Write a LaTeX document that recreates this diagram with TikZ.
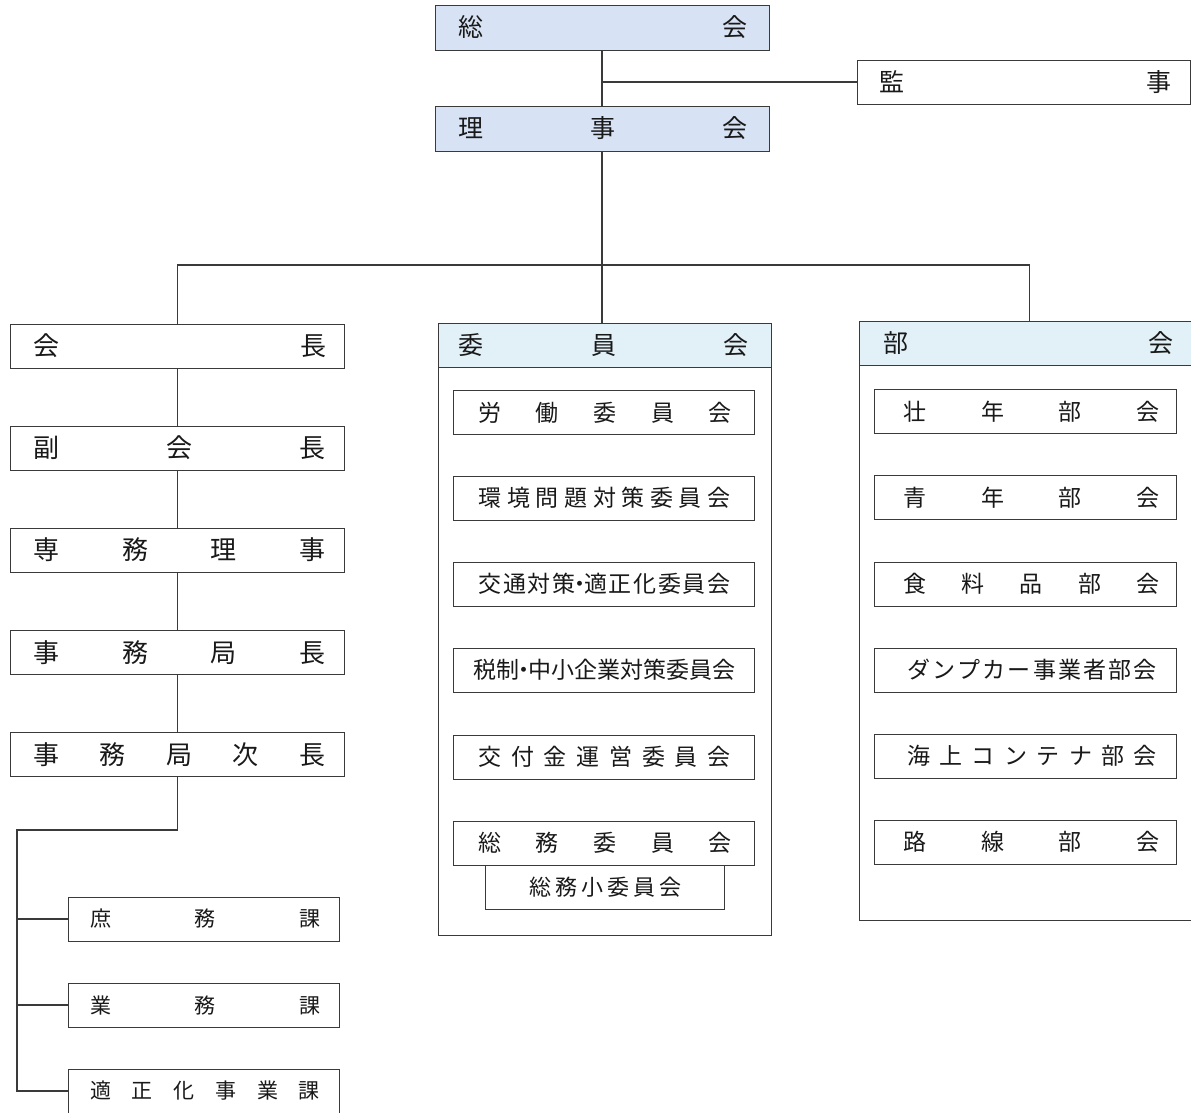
\documentclass[tikz,border=0pt]{standalone}
\usepackage{fontspec}
\newfontfamily\jp{Noto Sans CJK JP}
\definecolor{topblue}{HTML}{D7E3F4}
\definecolor{grpblue}{HTML}{E2F0F8}
\definecolor{ink}{HTML}{3A3A3A}
\newcommand{\sptxt}[3]{\hspace*{#2pt}\makebox[#1pt]{#3}}
\newcommand{\ndot}{\makebox[9pt]{・}}
\begin{document}
\begin{tikzpicture}[x=1pt,y=-1pt,
  bx/.style={draw=ink,line width=1pt,rectangle,inner sep=0pt,minimum height=44pt,text=black!90},
  topbx/.style={bx,fill=topblue,minimum width=334pt,minimum height=45pt,font=\jp\fontsize{25}{25}\selectfont},
  grpbx/.style={bx,fill=grpblue,minimum height=44pt,font=\jp\fontsize{25}{25}\selectfont},
  colbx/.style={bx,minimum width=334pt,font=\jp\fontsize{26}{26}\selectfont},
  secbx/.style={bx,minimum width=271pt,font=\jp\fontsize{21}{21}\selectfont},
  inbx/.style={bx,fill=white,minimum width=301pt,font=\jp\fontsize{23}{23}\selectfont},
  outbx/.style={draw=ink,line width=1pt,rectangle,inner sep=0pt},
  conn/.style={draw=ink,line width=1.2pt}]
\useasboundingbox (0,0) rectangle (1191,1112);
\fill[white] (0,0) rectangle (1191,1112);

% top
\node[topbx] (sokai) at (602,27.5) {\sptxt{289}{2}{総\hfill 会}};
\node[topbx] (riji) at (602,128.5) {\sptxt{289}{2}{理\hfill 事\hfill 会}};
\node[bx,minimum width=333pt,font=\jp\fontsize{25}{25}\selectfont] (kanji) at (1023.5,82) {\sptxt{292}{4}{監\hfill 事}};

% left column
\node[colbx] (kaicho) at (177.5,346) {\sptxt{293}{4}{会\hfill 長}};
\node[colbx] (fuku) at (177.5,448) {\sptxt{292}{4}{副\hfill 会\hfill 長}};
\node[colbx] (senmu) at (177.5,550) {\sptxt{292}{4}{専\hfill 務\hfill 理\hfill 事}};
\node[colbx] (kyokucho) at (177.5,652.5) {\sptxt{292}{4}{事\hfill 務\hfill 局\hfill 長}};
\node[colbx] (jicho) at (177.5,754.5) {\sptxt{292}{4}{事\hfill 務\hfill 局\hfill 次\hfill 長}};

\node[secbx] (shomu) at (203.5,919) {\sptxt{230}{3}{庶\hfill 務\hfill 課}};
\node[secbx] (gyomu) at (203.5,1005) {\sptxt{230}{3}{業\hfill 務\hfill 課}};
\node[secbx] (tekisei) at (203.5,1091) {\sptxt{230}{3}{適\hfill 正\hfill 化\hfill 事\hfill 業\hfill 課}};

% committee group
\node[outbx,minimum width=333pt,minimum height=612pt] (iinout) at (604.5,629) {};
\node[grpbx,minimum width=333pt] (iin) at (604.5,345) {\sptxt{290}{-2}{委\hfill 員\hfill 会}};
\node[inbx] (i1) at (603.5,412.5) {\sptxt{254}{3}{労\hfill 働\hfill 委\hfill 員\hfill 会}};
\node[inbx] (i2) at (603.5,498) {\sptxt{252}{2}{環\hfill 境\hfill 問\hfill 題\hfill 対\hfill 策\hfill 委\hfill 員\hfill 会}};
\node[inbx] (i3) at (603.5,584) {\sptxt{252}{2}{交\hfill 通\hfill 対\hfill 策\ndot 適\hfill 正\hfill 化\hfill 委\hfill 員\hfill 会}};
\node[inbx] (i4) at (603.5,670) {\sptxt{252}{2}{税\hfill 制\ndot 中\hfill 小\hfill 企\hfill 業\hfill 対\hfill 策\hfill 委\hfill 員\hfill 会}};
\node[inbx] (i5) at (603.5,757) {\sptxt{252}{2}{交\hfill 付\hfill 金\hfill 運\hfill 営\hfill 委\hfill 員\hfill 会}};
\node[inbx] (i6) at (603.5,843) {\sptxt{254}{3}{総\hfill 務\hfill 委\hfill 員\hfill 会}};
\node[bx,minimum width=239pt,font=\jp\fontsize{22}{22}\selectfont] (i6s) at (604.5,887) {\sptxt{152}{2}{総\hfill 務\hfill 小\hfill 委\hfill 員\hfill 会}};

% bukai group
\node[outbx,minimum width=341pt,minimum height=599pt] (buout) at (1029.5,620.5) {};
\node[grpbx,minimum width=341pt] (bu) at (1029.5,343.5) {\sptxt{290}{-3}{部\hfill 会}};
\node[inbx,minimum width=302pt] (b1) at (1025,411.5) {\sptxt{257}{13}{壮\hfill 年\hfill 部\hfill 会}};
\node[inbx,minimum width=302pt] (b2) at (1025,497.5) {\sptxt{257}{13}{青\hfill 年\hfill 部\hfill 会}};
\node[inbx,minimum width=302pt] (b3) at (1025,584) {\sptxt{257}{13}{食\hfill 料\hfill 品\hfill 部\hfill 会}};
\node[inbx,minimum width=302pt] (b4) at (1025,670) {\sptxt{250}{14}{ダ\hfill ン\hfill プ\hfill カ\hfill ー\hfill 事\hfill 業\hfill 者\hfill 部\hfill 会}};
\node[inbx,minimum width=302pt] (b5) at (1025,756) {\sptxt{250}{14}{海\hfill 上\hfill コ\hfill ン\hfill テ\hfill ナ\hfill 部\hfill 会}};
\node[inbx,minimum width=302pt] (b6) at (1025,842) {\sptxt{257}{13}{路\hfill 線\hfill 部\hfill 会}};

% connectors
\coordinate (bar) at (603,265);
\coordinate (trunk) at (17,830);
\draw[conn] (sokai) -- (riji);
\draw[conn] (sokai.south |- kanji.west) -- (kanji.west);
\draw[conn] (riji.south) -- (riji.south |- iin.north);
\draw[conn] (kaicho.north) |- (bar) -| (bu.north);
\draw[conn] (kaicho) -- (fuku);
\draw[conn] (fuku) -- (senmu);
\draw[conn] (senmu) -- (kyokucho);
\draw[conn] (kyokucho) -- (jicho);
\draw[conn] (jicho.south) |- (trunk) |- (tekisei.west);
\draw[conn] (trunk |- shomu.west) -- (shomu.west);
\draw[conn] (trunk |- gyomu.west) -- (gyomu.west);
\end{tikzpicture}
\end{document}
